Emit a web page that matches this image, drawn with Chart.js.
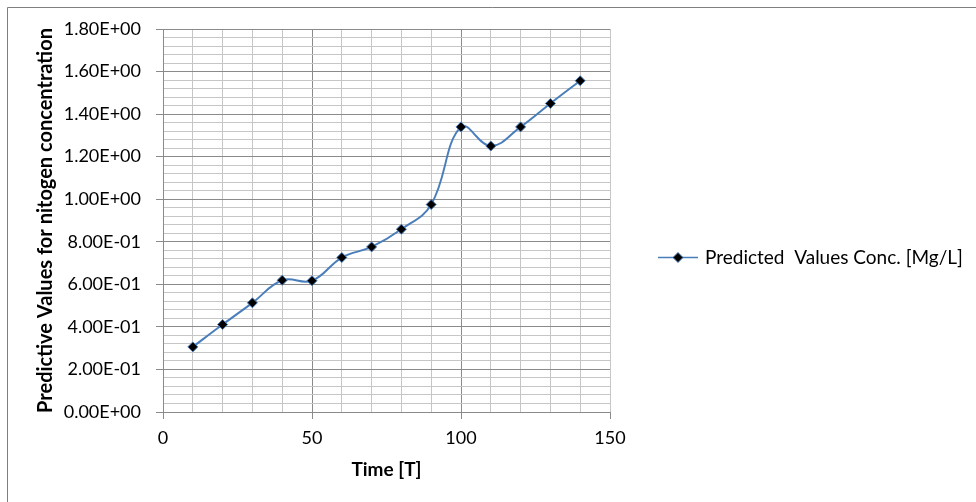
<!DOCTYPE html>
<html>
<head>
<meta charset="utf-8">
<script src="https://cdn.jsdelivr.net/npm/chart.js@4.4.1/dist/chart.umd.min.js"></script>
<style>
html,body{margin:0;padding:0;background:#fff;}
#wrap{width:976px;height:502px;position:relative;}
</style>
</head>
<body>
<div id="wrap"><canvas id="c" width="976" height="502"></canvas></div>
<script>
// ---- data ----
const timeValues = [10, 20, 30, 40, 50, 60, 70, 80, 90, 100, 110, 120, 130, 140];
const predictedConc = [0.306, 0.411, 0.513, 0.619, 0.617, 0.726, 0.776, 0.859, 0.975, 1.340, 1.250, 1.340, 1.450, 1.557];
const seriesLabel = 'Predicted  Values Conc. [Mg/L]';
const xTickLabels = ['0', '50', '100', '150'];
const yTickLabels = ['0.00E+00', '2.00E-01', '4.00E-01', '6.00E-01', '8.00E-01', '1.00E+00', '1.20E+00', '1.40E+00', '1.60E+00', '1.80E+00'];
const xTitle = 'Time [T]';
const yTitle = 'Predictive Values for nitogen concentration';

const FONT = 'Lato, "Open Sans", sans-serif';
const MAJOR = '#8a8a8a';
const MINOR = '#c6c6c6';
const LINE = '#4a7ebb';

function isMult(v, step) { const q = v / step; return Math.abs(q - Math.round(q)) < 1e-6; }

const frame = {
  id: 'frame',
  beforeDraw(chart) {
    const ctx = chart.ctx;
    ctx.save();
    ctx.fillStyle = '#fff';
    ctx.fillRect(0, 0, chart.width, chart.height);
    ctx.strokeStyle = '#7f7f7f';
    ctx.lineWidth = 1;
    ctx.beginPath();
    ctx.moveTo(7.5, chart.height + 2);
    ctx.lineTo(7.5, 7.5);
    ctx.lineTo(chart.width + 2, 7.5);
    ctx.stroke();
    ctx.restore();
  }
};

const sideLegend = {
  id: 'sideLegend',
  afterDraw(chart) {
    const ds = chart.data.datasets[0];
    const ctx = chart.ctx;
    const y = 257.5;
    ctx.save();
    ctx.strokeStyle = ds.borderColor;
    ctx.lineWidth = 1.5;
    ctx.beginPath();
    ctx.moveTo(658, y);
    ctx.lineTo(698, y);
    ctx.stroke();
    ctx.beginPath();
    ctx.moveTo(678 - 5, y); ctx.lineTo(678, y - 5); ctx.lineTo(678 + 5, y); ctx.lineTo(678, y + 5); ctx.closePath();
    ctx.fillStyle = ds.pointBackgroundColor;
    ctx.fill();
    ctx.strokeStyle = ds.pointBorderColor;
    ctx.lineWidth = 1;
    ctx.stroke();
    ctx.fillStyle = '#000';
    ctx.font = '19px ' + FONT;
    ctx.textBaseline = 'middle';
    ctx.textAlign = 'left';
    ctx.fillText(ds.label, 705, y);
    ctx.restore();
  }
};

new Chart(document.getElementById('c'), {
  type: 'line',
  data: {
    datasets: [{
      label: seriesLabel,
      data: timeValues.map((t, i) => ({ x: t, y: predictedConc[i] })),
      borderColor: LINE,
      borderWidth: 2,
      tension: 0.4,
      cubicInterpolationMode: 'default',
      pointStyle: 'rectRot',
      pointRadius: 5,
      pointBackgroundColor: '#000',
      pointBorderColor: LINE,
      pointBorderWidth: 1,
      fill: false
    }]
  },
  options: {
    responsive: false,
    animation: false,
    layout: { padding: { left: 0, top: 29, right: 366, bottom: 0 } },
    plugins: { legend: { display: false }, tooltip: { enabled: false } },
    scales: {
      x: {
        type: 'linear', min: 0, max: 150,
        afterFit(s) { s.height = 90; },
        ticks: {
          stepSize: 10, autoSkip: false, maxRotation: 0, padding: 8,
          color: '#000', font: { family: FONT, size: 18 },
          callback(v) { return isMult(v, 50) ? xTickLabels[Math.round(v / 50)] : ''; }
        },
        grid: {
          color: c => (c.tick && isMult(c.tick.value, 50) && c.tick.value < 150) ? MAJOR : MINOR,
          tickColor: c => (c.tick && isMult(c.tick.value, 50)) ? MAJOR : 'rgba(0,0,0,0)',
          tickLength: 7, lineWidth: 1
        },
        border: { color: MAJOR, width: 1 },
        title: {
          display: true, text: xTitle, color: '#000',
          font: { family: FONT, size: 19, weight: 'bold' },
          padding: { top: 0, bottom: 21 }
        }
      },
      y: {
        type: 'linear', min: 0, max: 1.8,
        afterFit(s) { s.width = 163; },
        ticks: {
          stepSize: 0.04, autoSkip: false, padding: 15,
          color: '#000', font: { family: FONT, size: 18 },
          callback(v) { return isMult(v, 0.2) ? yTickLabels[Math.round(v / 0.2)] : ''; }
        },
        grid: {
          color: c => (c.tick && isMult(c.tick.value, 0.2)) ? MAJOR : MINOR,
          tickColor: c => (c.tick && isMult(c.tick.value, 0.2)) ? MAJOR : 'rgba(0,0,0,0)',
          tickLength: 7, lineWidth: 1
        },
        border: { color: MAJOR, width: 1 },
        title: {
          display: true, text: yTitle, color: '#000',
          font: { family: FONT, size: 20, weight: 'bold' },
          padding: { top: 34, bottom: 0 }
        }
      }
    }
  },
  plugins: [frame, sideLegend]
});
</script>
</body>
</html>
